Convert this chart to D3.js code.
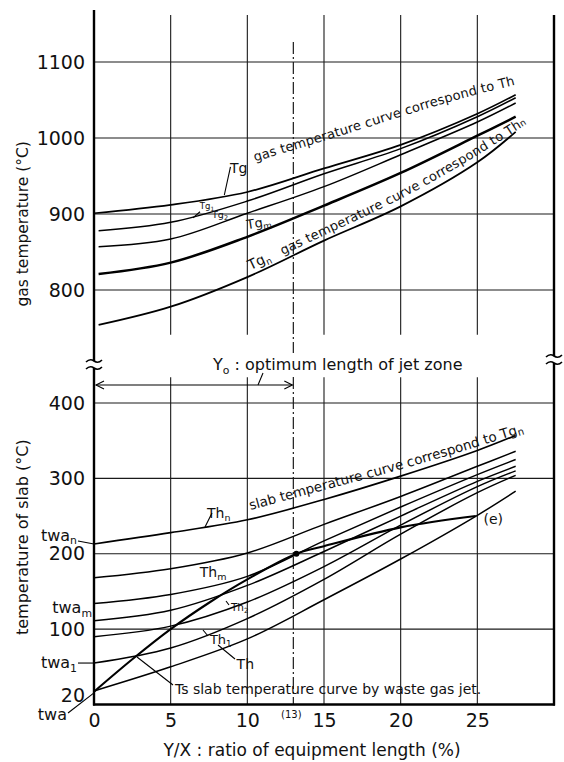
<!DOCTYPE html>
<html>
<head>
<meta charset="utf-8">
<script src="https://cdn.jsdelivr.net/npm/d3@7"></script>
<style>
	body { margin: 0; background: #fff; }
	svg  { display: block; font-family: "DejaVu Sans", sans-serif; }
</style>
</head>
<body>
<svg id="chart" width="564" height="762"></svg>
<script>
// Y/X positions the curves were read at (%)
var xs      = [0, 5, 10, 15, 20, 25, 27.5];
var gasXs   = [0.3, 5, 10, 15, 20, 25, 27.5];
var xTicks  = [0, 5, 10, 15, 20, 25];
var gasTicks  = [800, 900, 1000, 1100];
var slabTicks = [20, 100, 200, 300, 400];

// gas temperature curves (deg C)
var tg   = [901, 912, 929, 960, 991, 1032, 1057];
var tg1  = [878, 889, 917, 953, 986, 1028, 1053];
var tg2  = [857, 867, 901, 936, 978, 1021, 1046];
var tgm  = [821, 836, 870, 911, 954, 1003, 1028];
var tgn  = [754, 778, 817, 865, 910, 968, 1008];

// slab temperature curves (deg C)
var thn  = [213, 228, 245, 272, 303, 337, 357];
var thA  = [168, 180, 201, 239, 276, 316, 336];
var thm  = [134, 146, 170, 217, 262, 305, 325];
var thB  = [111, 125, 158, 203, 250, 296, 316];
var th2  = [90, 104, 136, 183, 238, 289, 310];
var th1  = [55, 75, 114, 166, 226, 281, 304];
var th   = [18, 50, 87, 139, 193, 251, 283];

// slab temperature by waste gas jet
var tsXs = [0, 2.5, 5, 7.5, 10, 13.2, 15, 20, 24.9];
var ts   = [17, 60, 100, 135, 166, 200, 210, 235, 250];

var svg = d3.select("#chart");

var x    = d3.scaleLinear().domain([0, 30]).range([94, 554]);
var yGas = d3.scaleLinear().domain([800, 1100]).range([290, 62]);
var ySlab= d3.scaleLinear().domain([0, 400]).range([704.5, 403]);

var smooth = d3.curveCatmullRom.alpha(0.5);
var gasLine = d3.line()
	.x(function(d){ return x(d[0]); })
	.y(function(d){ return yGas(d[1]); })
	.curve(smooth);
var slabLine = d3.line()
	.x(function(d){ return x(d[0]); })
	.y(function(d){ return ySlab(d[1]); })
	.curve(smooth);

var grid = svg.append("g").attr("stroke", "#1a1a1a").attr("stroke-width", 1.1).attr("fill", "none");

//vertical grid, both panels
xTicks.filter(function(d){ return d > 0; }).forEach(function(d){
	grid.append("line").attr("x1", x(d)).attr("x2", x(d)).attr("y1", yGas(1162)).attr("y2", yGas(741));
	grid.append("line").attr("x1", x(d)).attr("x2", x(d)).attr("y1", ySlab(434)).attr("y2", ySlab(0));
});
//horizontal grid
gasTicks.forEach(function(d){
	grid.append("line").attr("x1", x(0)).attr("x2", x(30)).attr("y1", yGas(d)).attr("y2", yGas(d));
});
slabTicks.filter(function(d){ return d >= 100; }).forEach(function(d){
	grid.append("line").attr("x1", x(0)).attr("x2", x(30)).attr("y1", ySlab(d)).attr("y2", ySlab(d));
});

//Y0 = 13 dash-dot line
svg.append("line")
	.attr("x1", x(13)).attr("x2", x(13))
	.attr("y1", 42).attr("y2", 353)
	.attr("stroke", "#1a1a1a").attr("stroke-width", 1.2).attr("stroke-dasharray", "12,3,2,3");
svg.append("line")
	.attr("x1", x(13)).attr("x2", x(13))
	.attr("y1", 377).attr("y2", ySlab(0))
	.attr("stroke", "#1a1a1a").attr("stroke-width", 1.2).attr("stroke-dasharray", "12,3,2,3");

//frame: left, right, bottom with breaks
var frame = svg.append("g").attr("stroke", "#000").attr("stroke-width", 2.4).attr("fill", "none");
frame.append("line").attr("x1", x(0)).attr("x2", x(0)).attr("y1", 10).attr("y2", 361);
frame.append("line").attr("x1", x(0)).attr("x2", x(0)).attr("y1", 368).attr("y2", ySlab(0) + 1);
frame.append("line").attr("x1", x(30)).attr("x2", x(30)).attr("y1", 15).attr("y2", 356);
frame.append("line").attr("x1", x(30)).attr("x2", x(30)).attr("y1", 363).attr("y2", ySlab(0) + 1);
frame.append("line").attr("x1", x(0) - 1).attr("x2", x(30) + 1).attr("y1", ySlab(0)).attr("y2", ySlab(0));

breakMark(x(0), 364.5);
breakMark(x(30), 359.5);

function breakMark(cx, cy){
	[-3.5, 3.5].forEach(function(off){
		svg.append("path")
			.attr("d", "M" + (cx - 8) + "," + (cy + off + 1) + " q4,-4 8,-1 t8,-1")
			.attr("fill", "none").attr("stroke", "#000").attr("stroke-width", 1.6);
	});
}

//axes
var axGas = svg.append("g")
	.attr("transform", "translate(" + x(0) + ",0)")
	.call(d3.axisLeft(yGas).tickValues(gasTicks).tickFormat(d3.format("d")).tickSize(0).tickPadding(9));
var axSlab = svg.append("g")
	.attr("transform", "translate(" + x(0) + ",0)")
	.call(d3.axisLeft(ySlab).tickValues(slabTicks).tickFormat(d3.format("d")).tickSize(0).tickPadding(9));
var axX = svg.append("g")
	.attr("transform", "translate(0," + ySlab(0) + ")")
	.call(d3.axisBottom(x).tickValues(xTicks).tickSize(0).tickPadding(9));
[axGas, axSlab, axX].forEach(function(a){
	a.select(".domain").remove();
	a.attr("font-family", "DejaVu Sans, sans-serif").attr("font-size", 19);
	a.selectAll("text").attr("fill", "#111");
});
axSlab.selectAll(".tick text").filter(function(d){ return d === 20; }).attr("dy", "0.62em");

//curves
var gasCurves = [
	{ xs: xs,    v: tg,  w: 1.7 },
	{ xs: gasXs, v: tg1, w: 1.5 },
	{ xs: gasXs, v: tg2, w: 1.5 },
	{ xs: gasXs, v: tgm, w: 2.5 },
	{ xs: gasXs, v: tgn, w: 1.8 }
];
var slabCurves = [
	{ xs: xs,   v: thn, w: 1.6 },
	{ xs: xs,   v: thA, w: 1.5 },
	{ xs: xs,   v: thm, w: 1.5 },
	{ xs: xs,   v: thB, w: 1.5 },
	{ xs: xs,   v: th2, w: 1.5 },
	{ xs: xs,   v: th1, w: 1.5 },
	{ xs: xs,   v: th,  w: 1.5 },
	{ xs: tsXs, v: ts,  w: 2.1 }
];
svg.append("g").selectAll("path").data(gasCurves).enter().append("path")
	.attr("d", function(c){ return gasLine(d3.zip(c.xs, c.v)); })
	.attr("fill", "none").attr("stroke", "#000")
	.attr("stroke-width", function(c){ return c.w; });
svg.append("g").selectAll("path").data(slabCurves).enter().append("path")
	.attr("d", function(c){ return slabLine(d3.zip(c.xs, c.v)); })
	.attr("fill", "none").attr("stroke", "#000")
	.attr("stroke-width", function(c){ return c.w; });

//point on Ts where the jet zone ends
svg.append("circle").attr("cx", x(13.2)).attr("cy", ySlab(200)).attr("r", 3).attr("fill", "#000");

//----- texts -----
var txt = svg.append("g").attr("fill", "#111");

function subText( px, py, main, sub, size, rest ){
	var t = txt.append("text").attr("x", px).attr("y", py).attr("font-size", size);
	t.append("tspan").text(main);
	t.append("tspan").attr("font-size", size * 0.68).attr("dy", size * 0.22).text(sub);
	if (rest) t.append("tspan").attr("dy", -size * 0.22).text(rest);
	return t;
}
function leader( x1, y1, x2, y2 ){
	svg.append("line").attr("x1", x1).attr("y1", y1).attr("x2", x2).attr("y2", y2)
		.attr("stroke", "#000").attr("stroke-width", 1.1);
}
function captionPath( id, pts, line ){
	svg.append("defs").append("path").attr("id", id)
		.attr("d", line.curve(d3.curveBasis)(pts));
	line.curve(smooth);
}

//axis titles
txt.append("text")
	.attr("transform", "translate(28," + yGas(887) + ") rotate(-90)")
	.attr("text-anchor", "middle").attr("font-size", 15.5)
	.text("gas temperature (\u00b0C)");
txt.append("text")
	.attr("transform", "translate(28," + ySlab(222) + ") rotate(-90)")
	.attr("text-anchor", "middle").attr("font-size", 16)
	.text("temperature of slab (\u00b0C)");
txt.append("text")
	.attr("x", 312).attr("y", 756)
	.attr("text-anchor", "middle").attr("font-size", 17)
	.text("Y/X : ratio of equipment length (%)");
txt.append("text")
	.attr("x", x(13) - 2).attr("y", ySlab(0) + 13)
	.attr("text-anchor", "middle").attr("font-size", 10)
	.text("(13)");

//Y0 annotation
subText(213, 370, "Y", "o", 16, " : optimum length of jet zone");
leader(263, 373, 258, 385);
svg.append("line").attr("x1", x(0) + 2).attr("x2", x(13) - 1).attr("y1", 385).attr("y2", 385)
	.attr("stroke", "#000").attr("stroke-width", 1.1);
svg.append("path")
	.attr("d", "M" + (x(0) + 10) + ",381 L" + (x(0) + 2) + ",385 L" + (x(0) + 10) + ",389" +
		" M" + (x(13) - 9) + ",381 L" + (x(13) - 1) + ",385 L" + (x(13) - 9) + ",389")
	.attr("fill", "none").attr("stroke", "#000").attr("stroke-width", 1.1);

//gas curve labels
txt.append("text").attr("x", x(8.87)).attr("y", yGas(954)).attr("font-size", 14).text("Tg");
leader(x(8.9), yGas(962), x(8.5), yGas(925));
subText(x(6.9), yGas(907), "Tg", "1", 8.5);
leader(193, yGas(895), 200, yGas(903));
subText(x(7.7), yGas(895), "Tg", "2", 9.5);
subText(x(10.0), yGas(880), "Tg", "m", 13).attr("transform", "rotate(-9," + x(10) + "," + yGas(880) + ")");

captionPath("tgCap", [[10.5, 969], [14, 990], [18, 1015], [21.5, 1038], [25, 1058], [29.5, 1080]], gasLine);
txt.append("text").attr("font-size", 13).attr("letter-spacing", 0.2)
	.append("textPath").attr("href", "#tgCap")
	.text("gas temperature curve correspond to Th");

captionPath("tgnCap", [[10.2, 826], [15, 872], [20, 918], [25, 976], [30, 1042]], gasLine);
var tgnText = txt.append("text").attr("font-size", 13).attr("letter-spacing", 0.2)
	.append("textPath").attr("href", "#tgnCap");
tgnText.append("tspan").attr("font-size", 14).text("Tg");
tgnText.append("tspan").attr("font-size", 9).attr("dy", 3).text("n");
tgnText.append("tspan").attr("dy", -3).attr("dx", 12).text("gas temperature curve correspond to Th");
tgnText.append("tspan").attr("font-size", 9).text("n");

//slab curve labels
captionPath("thnCap", [[10.2, 258], [13.4, 276], [19.9, 311], [23.9, 335], [28, 361], [29.5, 370]], slabLine);
var thnText = txt.append("text").attr("font-size", 13.5).append("textPath").attr("href", "#thnCap");
thnText.append("tspan").text("slab temperature curve correspond to Tg");
thnText.append("tspan").attr("font-size", 10).attr("dy", 2).text("n");

subText(x(7.37), ySlab(248), "Th", "n", 14);
leader(205, 527, 212, 513);
subText(x(6.9), ySlab(169), "Th", "m", 14);
subText(x(8.93), ySlab(124), "Th", "2", 10.5);
leader(226, 601, 229, 605);
subText(x(7.56), ySlab(80), "Th", "1", 13);
leader(203, 630, 208, 636);
txt.append("text").attr("x", x(9.3)).attr("y", ySlab(47)).attr("font-size", 14).text("Th");
leader(218, 645, 235, 659);

txt.append("text").attr("x", x(5.28)).attr("y", ySlab(14)).attr("font-size", 14)
	.text("Ts  slab temperature curve by waste gas jet.");
leader(137, 657, 173, 685);
txt.append("text").attr("x", x(25.4)).attr("y", ySlab(239)).attr("font-size", 14).text("(e)");

//start values on the slab axis
subText(77, ySlab(thn[0]) - 3, "twa", "n", 16).attr("text-anchor", "end");
leader(78, ySlab(thn[0]) - 3, x(0), ySlab(thn[0]));
subText(92, ySlab(thm[0]) + 10, "twa", "m", 16).attr("text-anchor", "end");
subText(77, ySlab(th1[0]) + 5, "twa", "1", 16).attr("text-anchor", "end");
leader(78, ySlab(th1[0]), x(0), ySlab(th1[0]));
txt.append("text").attr("x", 67).attr("y", 720).attr("font-size", 16).attr("text-anchor", "end").text("twa");
leader(68, 713, x(0), ySlab(th[0]) + 2);
</script>
</body>
</html>
